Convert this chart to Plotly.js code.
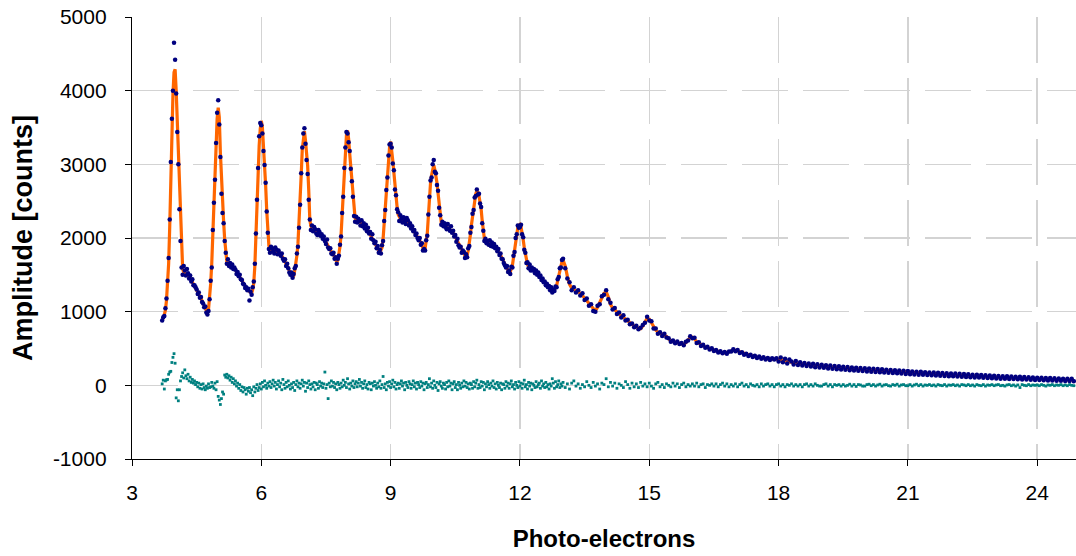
<!DOCTYPE html>
<html>
<head>
<meta charset="utf-8">
<script src="https://cdn.plot.ly/plotly-3.0.1.min.js"></script>
<style>html,body{margin:0;padding:0;background:#fff}#chart{width:1076px;height:556px}</style>
</head>
<body>
<div id="chart"></div>
<script>
// Grid A: x from 3.700 step 0.025 (372 samples); Grid B: x from 13.00 step 0.05 (238 samples)
var gridA = {x0: 3.7, dx: 0.025};
var gridB = {x0: 13.0, dx: 0.05};

var fitA = [
890,910,960,1020,1150,1360,1650,2150,2850,3500,
3950,4250,4290,4000,3600,3200,2600,2150,1750,1580,
1530,1520,1515,1510,1500,1480,1455,1430,1405,1380,
1350,1320,1290,1260,1235,1210,1180,1145,1100,1065,
1035,1010,985,1030,1160,1380,1650,2030,2470,2900,
3350,3620,3770,3640,3160,2800,2480,2230,1980,1780,
1680,1650,1640,1630,1620,1610,1600,1590,1565,1540,
1520,1500,1480,1450,1420,1390,1360,1335,1315,1300,
1285,1270,1255,1250,1300,1390,1620,2100,2470,2920,
3250,3480,3590,3500,3290,3030,2720,2380,2100,1900,
1850,1845,1842,1840,1835,1830,1825,1820,1815,1800,
1780,1760,1735,1710,1680,1645,1610,1575,1540,1515,
1495,1480,1485,1560,1650,1760,1920,2170,2470,2850,
3200,3380,3450,3320,3170,2980,2650,2250,2160,2130,
2115,2108,2100,2093,2085,2078,2070,2050,2030,2010,
1990,1972,1955,1922,1890,1860,1830,1810,1790,1770,
1750,1710,1670,1700,1780,1880,2040,2300,2580,2900,
3200,3400,3460,3350,3150,2980,2800,2600,2350,2270,
2250,2242,2235,2222,2210,2200,2190,2175,2160,2142,
2125,2100,2075,2050,2025,1998,1970,1942,1915,1888,
1860,1830,1800,1830,1870,1990,2200,2410,2610,2850,
3090,3230,3310,3200,3050,2890,2700,2550,2420,2320,
2280,2262,2250,2245,2240,2236,2232,2228,2225,2202,
2180,2155,2130,2108,2085,2062,2040,2015,1990,1965,
1940,1900,1860,1825,1860,1940,2060,2290,2590,2740,
2850,2960,2990,2930,2850,2750,2610,2440,2280,2210,
2190,2180,2170,2162,2155,2145,2135,2125,2115,2092,
2070,2040,2010,1978,1945,1915,1885,1858,1830,1805,
1780,1760,1750,1770,1830,1920,2040,2180,2300,2410,
2520,2600,2640,2620,2570,2500,2390,2230,2070,1990,
1960,1950,1940,1935,1930,1922,1915,1905,1895,1878,
1860,1840,1820,1795,1770,1735,1700,1670,1640,1615,
1590,1565,1535,1540,1580,1630,1730,1840,1970,2080,
2140,2175,2185,2150,2080,1980,1870,1770,1690,1640,
1610,1595,1590,1582,1575,1562,1550,1535,1520,1502,
1485,1468,1450,1430,1410,1392,1375,1360,1345,1330,
1315,1300,1285,1278,1300,1320,1350,1420,1490,1560,
1620,1680
];

var fitB = [
1700,1620,1480,1370,1320,1305,1285,1265,1250,1220,
1185,1150,1110,1070,1030,1010,1060,1120,1190,1250,
1270,1200,1100,1050,1025,995,965,945,925,900,
870,845,825,805,790,775,770,805,870,910,
900,850,790,750,720,705,690,680,665,630,
605,595,585,578,572,562,555,580,620,650,
655,630,590,570,550,535,525,510,500,490,
478,468,458,450,444,440,442,452,468,478,
475,465,450,438,428,418,410,402,395,388,
382,376,371,366,362,358,356,356,358,356,
352,346,338,331,325,319,313,308,303,298,
294,290,286,282,278,275,272,269,266,263,
260,257,254,251,248,246,243,241,238,236,
233,231,229,226,224,222,220,218,216,214,
212,210,208,206,204,202,200,198,196,194,
192,190,188,186,184,182,180,178,176,174,
172,170,169,167,166,164,162,161,159,158,
156,155,153,152,150,149,147,146,144,143,
141,140,138,137,135,134,132,131,129,128,
126,125,123,122,120,119,117,116,114,113,
111,110,109,107,106,105,104,102,101,100,
99,97,96,95,94,93,91,90,89,88,
87,86,85,84,83,82,81,80,79,78,
77,76,75,74,74,73,72,71
];

var dataA = [
880,925,940,1045,1180,1420,1730,2250,3030,3620,
4000,4650,4420,3960,3440,3000,2390,1960,1600,1500,
1620,1560,1490,1580,1520,1450,1490,1410,1440,1360,
1360,1330,1300,1240,1260,1190,1200,1130,1110,1060,
1070,990,960,1010,1170,1420,1600,2110,2480,2790,
3290,3700,3870,3540,3100,2600,2340,2200,1960,1800,
1650,1710,1620,1660,1600,1640,1580,1600,1570,1510,
1540,1480,1500,1440,1430,1380,1370,1320,1330,1290,
1310,1150,1270,1230,1330,1410,1650,2060,2520,2950,
3380,3560,3530,3420,3180,2990,2750,2360,2070,1850,
1800,1880,1860,1820,1790,1870,1840,1780,1830,1790,
1760,1790,1720,1690,1710,1620,1650,1590,1530,1500,
1530,1460,1510,1590,1620,1790,1880,2140,2450,2880,
3230,3420,3490,3280,3060,2870,2520,2250,2110,2170,
2090,2150,2120,2060,2040,2110,2080,2030,2050,1990,
2020,1960,1920,1980,1870,1850,1860,1790,1780,1800,
1720,1740,1650,1720,1760,1910,2020,2340,2560,2950,
3230,3440,3420,3300,3180,2940,2770,2560,2300,2220,
2290,2210,2260,2230,2170,2240,2160,2200,2130,2180,
2090,2140,2060,2080,1990,2050,1970,1930,1950,1860,
1890,1800,1840,1790,1900,1960,2230,2380,2650,2820,
3120,3270,3280,3230,3010,2920,2660,2580,2390,2350,
2230,2310,2260,2210,2280,2230,2190,2270,2240,2170,
2200,2130,2160,2090,2110,2040,2060,2000,1970,2000,
1910,1930,1830,1850,1830,1970,2030,2320,2560,2780,
2820,3000,3060,2900,2880,2720,2640,2410,2310,2180,
2220,2160,2200,2150,2120,2190,2130,2100,2160,2070,
2100,2020,2040,1950,1990,1900,1870,1880,1800,1830,
1810,1730,1780,1740,1860,1890,2070,2150,2330,2380,
2550,2570,2660,2590,2600,2470,2420,2200,2100,1960,
1990,1930,1960,1910,1970,1890,1940,1880,1920,1860,
1880,1820,1850,1770,1790,1720,1710,1660,1630,1600,
1620,1540,1560,1510,1610,1600,1760,1810,2000,2050,
2170,2140,2150,2180,2050,2010,1840,1800,1660,1670,
1590,1640,1560,1600,1560,1580,1520,1560,1500,1530,
1470,1490,1430,1450,1400,1410,1360,1380,1330,1350,
1290,1330,1260,1300,1280,1340,1330,1440,1470,1590,
1600,1700
];

var dataB = [
1720,1590,1450,1400,1290,1330,1260,1290,1220,1250,
1160,1180,1080,1100,1010,1000,1080,1100,1210,1230,
1290,1170,1120,1030,1050,970,990,920,950,880,
890,830,840,790,810,760,780,820,850,930,
880,870,770,770,700,720,670,700,650,640,
590,610,570,595,560,575,545,590,610,665,
640,645,575,585,535,550,510,525,485,505,
465,480,445,462,436,452,430,460,458,490,
462,478,440,450,415,430,398,415,384,400,
370,390,360,380,350,370,345,368,350,366,
325,378,312,362,296,350,325,284,330,275,
312,268,303,262,298,255,292,247,286,242,
281,237,273,229,268,225,263,219,258,215,
253,212,248,205,243,202,239,197,235,193,
231,189,228,185,225,182,221,177,217,173,
213,171,209,167,205,163,201,159,197,155,
193,151,189,148,186,145,183,142,179,139,
175,136,173,133,170,131,167,128,164,125,
161,122,159,119,156,117,153,114,149,111,
145,108,143,105,140,103,137,100,133,97,
130,93,128,91,125,89,122,87,119,85,
117,82,115,80,112,78,109,76,106,73,
104,71,102,69,100,67,98,65,96,63,
93,61,91,59,90,58,88,57
];

var residA = [
20,70,-50,60,75,80,150,180,190,310,
380,430,300,-170,-60,-210,-60,60,120,170,
100,210,130,90,150,60,110,40,80,30,
60,10,40,-20,30,-40,10,-50,20,-30,
-60,-10,-40,20,-30,-20,40,-10,-40,30,
-60,50,-150,-200,-260,-180,-90,-120,140,110,
150,100,130,70,110,40,90,20,60,-10,
30,-40,10,-70,-20,-90,-30,-60,-120,-40,
-80,-30,-100,-60,-140,-20,-90,-40,10,-70,
-30,20,-50,40,-20,60,0,-40,30,-10,
50,-30,20,70,-10,40,-50,10,60,-20,
30,-60,80,10,-40,40,-20,60,0,-50,
20,-30,40,-70,10,60,-20,30,-40,20,
70,-10,40,-80,30,-30,60,10,-50,20,
-20,40,-60,30,10,-40,50,-10,30,-30,
20,180,-40,10,-180,30,-20,60,-10,40,
-30,20,-60,40,10,-40,30,-20,70,0,
40,-30,90,20,-50,30,-10,60,-30,20,
50,-20,30,80,-10,40,-40,20,60,-30,
10,-50,40,20,-60,30,-10,50,0,-40,
30,-20,60,-40,10,120,-30,20,-60,40,
-10,50,-30,20,70,-20,40,-50,10,30,
-40,20,60,-10,30,-60,40,0,-30,50,
20,-40,10,60,-20,30,-50,40,10,-30,
50,-10,30,-60,20,40,-30,10,90,-20,
30,-40,60,0,-30,40,-70,20,50,-10,
-40,30,10,-50,40,-20,60,-10,30,-60,
20,50,-30,10,-60,40,0,-40,30,-20,
60,-10,40,-30,20,-50,30,10,-40,50,
-20,30,70,-40,10,-30,50,-10,40,-60,
20,-20,50,10,-40,30,-10,60,-30,20,
-50,40,0,-30,30,-60,20,10,-40,50,
-10,30,-40,20,60,-20,10,-50,40,0,
-30,50,-10,30,-40,20,70,-20,10,-50,
40,-10,30,-60,20,0,-30,50,-20,10,
30,-40,60,-10,20,-30,40,-20,10,-50,
20,-10,90,30,-40,50,-20,10,60,-30,
20,-10
];

var residB = [
40,-30,20,-50,30,60,-10,20,-40,10,
-20,50,0,-30,40,-10,20,-50,30,10,
90,-20,40,-10,30,-40,20,0,-30,50,
10,-40,30,-20,20,-30,40,-10,20,-20,
30,-10,-40,20,40,-20,10,-30,20,0,
-20,30,-10,20,-30,10,30,-20,10,-10,
20,-10,30,-20,10,20,-30,10,0,20,
-10,20,-20,10,30,-10,20,-20,10,-10,
20,-20,10,30,-10,10,-20,20,0,-10,
10,-20,20,-10,10,20,-10,10,-20,10,
20,-10,10,-20,10,0,20,-10,10,-10,
10,-20,10,20,-10,10,-10,20,0,-10,
-10,10,20,-10,10,-20,10,0,10,-10,
10,-10,0,15,-10,10,-15,10,5,-10,
-10,10,15,-5,10,-10,5,15,-10,5,
10,-5,-10,10,0,15,-10,5,10,-5,
-5,10,-10,5,15,-5,10,-10,5,0,
10,-5,5,-10,10,0,-5,10,-10,5,
0,10,-5,5,-10,10,5,-5,10,-5,
5,-10,10,0,-5,10,-10,5,0,10,
-5,5,10,-5,0,-10,5,10,-5,5,
-10,5,-30,10,0,-5,10,-5,5,0,
5,-5,10,0,-10,5,0,10,-5,5,
0,10,-5,5,-5,10,0,-5
];

var xTicks = [3, 6, 9, 12, 15, 18, 21, 24];
var yTicks = [-1000, 0, 1000, 2000, 3000, 4000, 5000];

var navy = '#000080', orange = '#ff6600', teal = '#008080';

function resTrace(y, g) {
  return {type: 'scatter', mode: 'markers', y: y, x0: g.x0, dx: g.dx,
    marker: {color: teal, size: 2.8, symbol: 'square'}, hoverinfo: 'skip', showlegend: false};
}
function fitTrace(y, g) {
  return {type: 'scatter', mode: 'lines', y: y, x0: g.x0, dx: g.dx,
    line: {color: orange, width: 3.2}, hoverinfo: 'skip', showlegend: false};
}
function dataTrace(y, g) {
  return {type: 'scatter', mode: 'markers', y: y, x0: g.x0, dx: g.dx,
    marker: {color: navy, size: 4.5, symbol: 'circle'}, hoverinfo: 'skip', showlegend: false};
}

var traces = [
  resTrace(residA, gridA), resTrace(residB, gridB),
  fitTrace(fitA, gridA), fitTrace(fitB, gridB),
  dataTrace(dataA, gridA), dataTrace(dataB, gridB)
];

var fam = 'Liberation Sans, Arial, sans-serif';
var axisFont = {family: fam, size: 21, color: '#000'};
var gridStyle = {showgrid: true, gridcolor: '#d3d3d3', gridwidth: 1.5, griddash: '46px,15px'};

var layout = {
  width: 1076, height: 556,
  margin: {l: 132, r: 0, t: 17, b: 97},
  paper_bgcolor: '#fff', plot_bgcolor: '#fff',
  font: axisFont,
  showlegend: false,
  xaxis: Object.assign({
    range: [3, 24.9], tickmode: 'array', tickvals: xTicks, ticktext: xTicks.map(String),
    showline: true, linecolor: '#000', linewidth: 1.2, zeroline: false,
    ticks: 'outside', ticklen: 6, tickcolor: '#000', tickwidth: 1,
    tickfont: axisFont, ticklabelstandoff: 9,
    title: {text: 'Photo-electrons', font: {family: fam, size: 24, color: '#000', weight: 'bold'}, standoff: 26}
  }, gridStyle),
  yaxis: Object.assign({
    range: [-1000, 5000], tickmode: 'array', tickvals: yTicks, ticktext: yTicks.map(String),
    showline: true, linecolor: '#000', linewidth: 1.2, zeroline: false,
    ticks: 'outside', ticklen: 6, tickcolor: '#000', tickwidth: 1,
    tickfont: axisFont, ticklabelstandoff: 14,
    title: {text: 'Amplitude [counts]', font: {family: fam, size: 27, color: '#000', weight: 'bold'}, standoff: 12}
  }, gridStyle)
};

Plotly.newPlot('chart', traces, layout, {staticPlot: true, displayModeBar: false});
</script>
</body>
</html>
